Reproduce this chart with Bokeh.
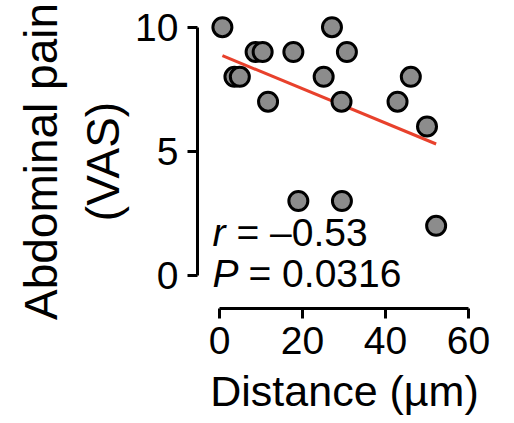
import numpy as np
from bokeh.plotting import figure
from bokeh.models import Label, ColumnDataSource, FixedTicker
from bokeh.embed import file_html
from bokeh.resources import INLINE

# Data
distance = [0.7, 3.6, 4.9, 8.7, 10.4, 11.7, 17.8, 19.0, 25.1, 27.1, 29.4, 29.5, 30.7, 42.9, 46.1, 50.0, 52.2]
pain = [10, 8, 8, 9, 9, 7, 9, 3, 8, 10, 7, 3, 9, 7, 8, 6, 2]
x_ticks = [0, 20, 40, 60]
y_ticks = [0, 5, 10]
r_text = "= \u20130.53"
p_text = "= 0.0316"

FONT = "Liberation Sans"

p = figure(frame_width=294, frame_height=294,
           x_range=(-5.3, 65.54), y_range=(-1.33, 10.51),
           output_backend="svg", toolbar_location=None,
           min_border_left=197, min_border_top=14, min_border_right=10, min_border_bottom=100)
p.outline_line_color = None
p.xgrid.visible = False
p.ygrid.visible = False
p.background_fill_color = "white"
p.border_fill_color = "white"

# regression line from data
slope, intercept = np.polyfit(distance, pain, 1)
xs = [min(distance), max(distance)]
ys = [slope * v + intercept for v in xs]
p.line(xs, ys, line_color="#e8412c", line_width=3)

src = ColumnDataSource(dict(x=distance, y=pain))
p.scatter("x", "y", source=src, size=19, fill_color="#8c8c8c", line_color="black", line_width=3)

for ax, ticks, bounds in ((p.xaxis[0], x_ticks, (0, 60)), (p.yaxis[0], y_ticks, (0, 10))):
    ax.ticker = FixedTicker(ticks=ticks)
    ax.bounds = bounds
    ax.axis_line_width = 3
    ax.axis_line_color = "black"
    ax.major_tick_line_width = 3
    ax.major_tick_line_color = "black"
    ax.major_tick_out = 10
    ax.major_tick_in = 0
    ax.minor_tick_line_color = None
    ax.major_label_text_font = FONT
    ax.major_label_text_font_size = "39px"
    ax.major_label_text_color = "black"
    ax.axis_label_text_font = FONT
    ax.axis_label_text_font_style = "normal"
    ax.axis_label_text_color = "black"

p.xaxis.axis_label = "Distance (\u00b5m)"
p.yaxis.axis_label = "Abdominal pain\n(VAS)"
p.xaxis.axis_label_text_font_size = "43px"
p.yaxis.axis_label_text_font_size = "46px"
p.xaxis.major_label_standoff = 8
p.xaxis.axis_label_standoff = 10
p.yaxis.major_label_standoff = 9
p.yaxis.axis_label_standoff = 3

common = dict(text_font=FONT, text_font_size="39px", text_color="black", text_baseline="alphabetic")
ry, py = 1.75, 0.06
p.add_layout(Label(x=0, y=ry, x_offset=-7, text="r", text_font_style="italic", **common))
p.add_layout(Label(x=0, y=ry, x_offset=17, text=r_text, **common))
p.add_layout(Label(x=0, y=py, x_offset=-7, text="P", text_font_style="italic", **common))
p.add_layout(Label(x=0, y=py, x_offset=29, text=p_text, **common))

open("out.html", "w").write(file_html(p, INLINE))
